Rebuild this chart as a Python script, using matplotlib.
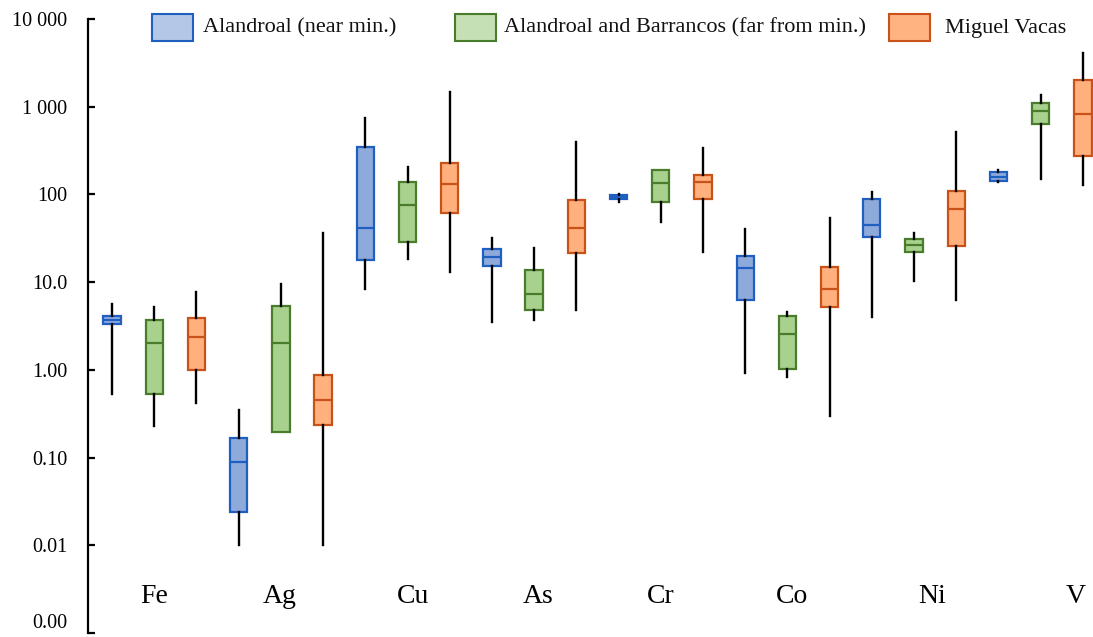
import numpy as np
import matplotlib
matplotlib.use("Agg")
import matplotlib.pyplot as plt
from matplotlib.patches import Rectangle

plt.rcParams['font.family'] = ['Liberation Serif', 'DejaVu Serif']

# elements and groups
elements = ['Fe', 'Ag', 'Cu', 'As', 'Cr', 'Co', 'Ni', 'V']
groups = ['Alandroal (near min.)', 'Alandroal and Barrancos (far from min.)', 'Miguel Vacas']

# box stats per element: [whisker low, q1, median, q3, whisker high]
alandroal_near = [
    [0.53, 3.35, 3.72, 4.13, 5.66],
    [0.010, 0.0238, 0.090, 0.169, 0.347],
    [8.4, 18.0, 41.3, 346, 741],
    [3.55, 15.3, 19.4, 24.1, 31.7],
    [81.7, 88.6, 93.0, 98.5, 100],
    [0.92, 6.3, 14.6, 19.8, 40.5],
    [4.05, 32.9, 45.4, 89, 106],
    [140, 142, 160, 179, 189],
]
alandroal_far = [
    [0.23, 0.53, 2.0, 3.72, 5.23],
    [0.195, 0.198, 2.03, 5.37, 9.56],
    [18.3, 29, 76, 140, 203],
    [3.72, 4.83, 7.36, 13.6, 24.8],
    [48.3, 81, 135, 188, 191],
    [0.82, 1.02, 2.55, 4.13, 4.55],
    [10.4, 22.3, 26.4, 31, 36.8],
    [151, 627, 897, 1089, 1377],
]
miguel_vacas = [
    [0.42, 1.0, 2.40, 3.89, 7.75],
    [0.010, 0.234, 0.455, 0.877, 36.5],
    [13.2, 61, 132, 228, 1466],
    [4.83, 21.4, 41.6, 86.8, 395],
    [22.3, 88.3, 140, 166, 340],
    [0.30, 5.27, 8.45, 14.8, 54],
    [6.28, 25.9, 68.5, 109, 517],
    [129, 275, 823, 1991, 4150],
]

ytick_vals = [0.001, 0.01, 0.1, 1, 10, 100, 1000, 10000]
ytick_labels = ['0.00', '0.01', '0.10', '1.00', '10.0', '100', '1 000', '10 000']

# where the element names sit along x
label_pos = [0.99, 3.97, 7.14, 10.1, 13.0, 16.1, 19.43, 22.84]

fills = ['#8eaadb', '#a9d18e', '#ffb07c']
edges = ['#1f5fc0', '#4a7d2b', '#c9521a']
legend_fills = ['#b4c7e7', '#c5e0b4', '#ffb381']

fig = plt.figure(figsize=(10.93, 6.37), dpi=100)
ax = fig.add_axes([88 / 1093, 4 / 637, 1 - 88 / 1093, 614 / 637])

for j, series in enumerate([alandroal_near, alandroal_far, miguel_vacas]):
    stats = []
    for s in series:
        stats.append(dict(whislo=s[0], q1=s[1], med=s[2], q3=s[3], whishi=s[4], fliers=[]))
    pos = [i * 3 + j for i in range(len(elements))]
    ax.bxp(stats, positions=pos, widths=0.41, showcaps=False, showfliers=False,
           patch_artist=True,
           boxprops=dict(facecolor=fills[j], edgecolor=edges[j], linewidth=1.6),
           medianprops=dict(color=edges[j], linewidth=1.6),
           whiskerprops=dict(color='black', linewidth=1.7))

ax.set_yscale('log')
ax.set_ylim(0.001, 10000)
ax.set_xlim(-0.57, 23.24)
ax.set_yticks(ytick_vals)
ax.set_yticklabels(ytick_labels)
ax.yaxis.set_minor_locator(matplotlib.ticker.NullLocator())
ax.tick_params(axis='y', direction='in', length=5, width=1.6, pad=15, labelsize=14.5)
# bottom label sits just above its tick
ax.get_yticklabels()[0].set_verticalalignment('bottom')
ax.set_xticks([])
for side in ['top', 'right', 'bottom']:
    ax.spines[side].set_visible(False)
ax.spines['left'].set_linewidth(1.6)

for name, x in zip(elements, label_pos):
    ax.text(x, 0.0022, name, ha='center', va='baseline', fontsize=20)

# legend drawn by hand so the gaps follow the original layout
patch_x = [152, 455, 889]
text_x = [203, 504, 945]
for k in range(3):
    fig.patches.append(Rectangle((patch_x[k] / 1093, 1 - 41 / 637), 41 / 1093, 27 / 637,
                                 transform=fig.transFigure, facecolor=legend_fills[k],
                                 edgecolor=edges[k], linewidth=1.5))
    fig.text(text_x[k] / 1093, 1 - 28 / 637, groups[k], ha='left', va='center',
             fontsize=16, color='#111111')

fig.savefig('out.png', dpi=100)
